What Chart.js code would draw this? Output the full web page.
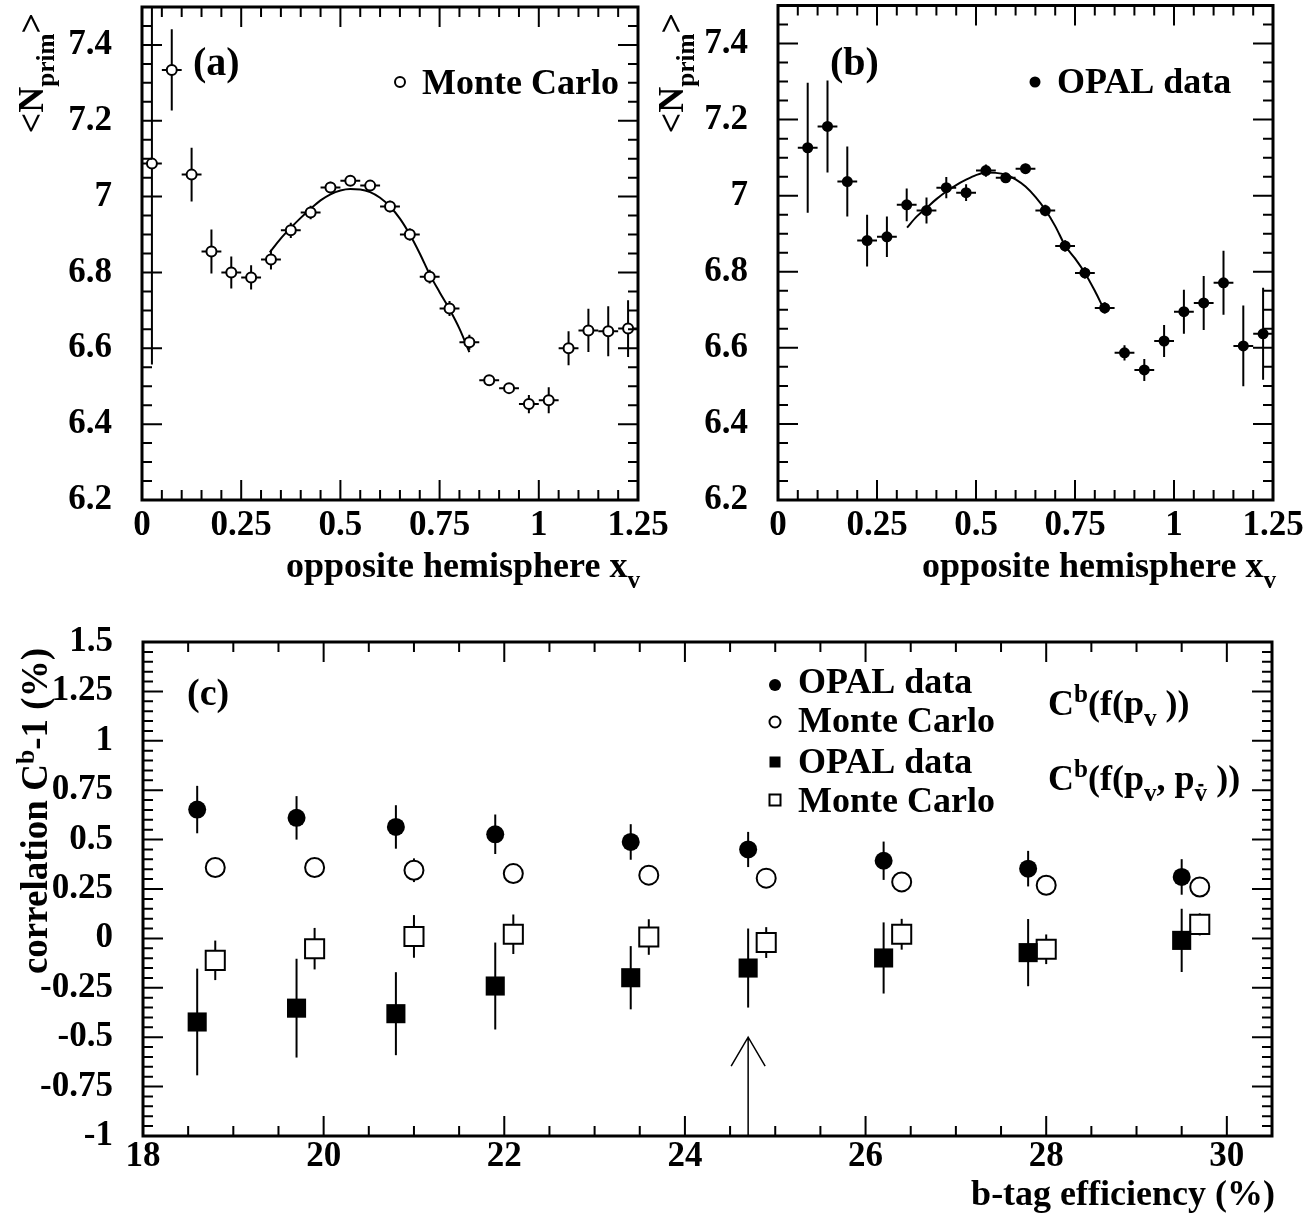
<!DOCTYPE html>
<html>
<head>
<meta charset="utf-8">
<script src="https://cdn.jsdelivr.net/npm/chart.js@4.4.0/dist/chart.umd.min.js"></script>
<style>
    html, body { margin: 0; padding: 0; background: #fff; }
    #page { position: relative; width: 1311px; height: 1222px; overflow: hidden; }
    canvas { position: absolute; }
</style>
</head>
<body>
<div id="page">
    <canvas id="chartA" width="700" height="600" style="left:0;top:0"></canvas>
    <canvas id="chartB" width="656" height="600" style="left:655px;top:0"></canvas>
    <canvas id="chartC" width="1311" height="612" style="left:0;top:610px"></canvas>
</div>
<script>
// ---- panels (a) and (b): <N_prim> vs opposite hemisphere x_v ----
const xBinsA = [0.025, 0.075, 0.125, 0.175, 0.225, 0.275, 0.325, 0.375, 0.425, 0.475, 0.525, 0.575,
    0.625, 0.675, 0.725, 0.775, 0.825, 0.875, 0.925, 0.975, 1.025, 1.075, 1.125, 1.175, 1.225];
const mcNprim = [7.087, 7.334, 7.058, 6.855, 6.800, 6.787, 6.834, 6.911, 6.958, 7.024, 7.042, 7.029,
    6.974, 6.900, 6.789, 6.705, 6.616, 6.516, 6.495, 6.453, 6.463, 6.600, 6.647, 6.645, 6.652];
const mcNprimErr = [0.53, 0.107, 0.071, 0.058, 0.042, 0.032, 0.026, 0.02, 0.018, 0.015, 0.013, 0.013,
    0.015, 0.016, 0.018, 0.02, 0.02, 0.012, 0.012, 0.024, 0.034, 0.045, 0.057, 0.066, 0.075];

const xBinsB = [0.075, 0.125, 0.175, 0.225, 0.275, 0.325, 0.375, 0.425, 0.475, 0.525, 0.575, 0.625,
    0.675, 0.725, 0.775, 0.825, 0.875, 0.925, 0.975, 1.025, 1.075, 1.125, 1.175, 1.225];
const dataNprim = [7.126, 7.182, 7.037, 6.882, 6.892, 6.976, 6.961, 7.021, 7.008, 7.066, 7.047, 7.071,
    6.961, 6.868, 6.797, 6.705, 6.587, 6.542, 6.618, 6.695, 6.718, 6.771, 6.605, 6.637];
const dataNprimErr = [0.171, 0.121, 0.092, 0.068, 0.053, 0.043, 0.034, 0.028, 0.022, 0.016, 0.013, 0.013,
    0.015, 0.015, 0.015, 0.015, 0.02, 0.029, 0.042, 0.058, 0.071, 0.084, 0.106, 0.121];
const binHalfWidth = 0.025;

// fitted curves
const fitXA = [0.322, 0.35, 0.375, 0.40, 0.425, 0.45, 0.475, 0.50, 0.525, 0.55, 0.575, 0.60, 0.625,
    0.65, 0.675, 0.70, 0.725, 0.75, 0.775, 0.80, 0.825];
const fitYA = [6.853, 6.89, 6.918, 6.944, 6.968, 6.99, 7.006, 7.016, 7.02, 7.019, 7.012, 6.997, 6.974,
    6.942, 6.900, 6.85, 6.795, 6.748, 6.703, 6.652, 6.59];
const fitXB = [0.326, 0.35, 0.375, 0.40, 0.425, 0.45, 0.475, 0.50, 0.525, 0.55, 0.575, 0.60, 0.625,
    0.65, 0.675, 0.70, 0.725, 0.75, 0.775, 0.80, 0.82];
const fitYB = [6.916, 6.945, 6.968, 6.991, 7.011, 7.028, 7.042, 7.054, 7.061, 7.06, 7.055, 7.043, 7.024,
    6.997, 6.963, 6.92, 6.869, 6.835, 6.797, 6.75, 6.708];

const xTicksAB = [0, 0.25, 0.5, 0.75, 1, 1.25];
const yTicksAB = [6.2, 6.4, 6.6, 6.8, 7, 7.2, 7.4];

// ---- panel (c): correlation vs b-tag efficiency ----
const effData = [18.6, 19.7, 20.8, 21.9, 23.4, 24.7, 26.2, 27.8, 29.5];
const effMc = [18.8, 19.9, 21.0, 22.1, 23.6, 24.9, 26.4, 28.0, 29.7];
const corrDataPv = [0.652, 0.61, 0.564, 0.527, 0.488, 0.45, 0.393, 0.353, 0.311];
const corrDataPvErr = [0.12, 0.11, 0.11, 0.10, 0.09, 0.089, 0.097, 0.09, 0.09];
const corrMcPv = [0.359, 0.359, 0.345, 0.328, 0.32, 0.305, 0.286, 0.269, 0.26];
const corrMcPvErr = [0.04, 0.04, 0.06, 0.04, 0.04, 0.04, 0.04, 0.04, 0.04];
const corrDataPvPvbar = [-0.423, -0.353, -0.381, -0.241, -0.199, -0.15, -0.099, -0.072, -0.01];
const corrDataPvPvbarErr = [0.27, 0.25, 0.21, 0.22, 0.16, 0.2, 0.18, 0.17, 0.16];
const corrMcPvPvbar = [-0.111, -0.052, 0.01, 0.021, 0.007, -0.021, 0.021, -0.055, 0.071];
const corrMcPvPvbarErr = [0.1, 0.105, 0.108, 0.1, 0.09, 0.078, 0.078, 0.075, 0.056];
const arrowEff = 24.7;
const arrowFrom = -1;
const arrowTo = -0.5;

const xTicksC = [18, 20, 22, 24, 26, 28, 30];
const yTicksC = [-1, -0.75, -0.5, -0.25, 0, 0.25, 0.5, 0.75, 1, 1.25, 1.5];

const FONT = '"Liberation Serif", "Times New Roman", serif';

function points(xs, ys) {
    return xs.map((x, i) => ({ x, y: ys[i] }));
}

/**
 * Draws text made of normal / sub / sup parts, left or right aligned.
 */
function richText(ctx, parts, x, y, size, align) {
    const small = size * 0.7;
    const fontFor = m => `bold ${m ? small : size}px ${FONT}`;
    const widths = parts.map(([t, m]) => { ctx.font = fontFor(m); return ctx.measureText(t).width; });
    const total = widths.reduce((a, b) => a + b, 0);
    let cx = align === 'right' ? x - total : x;
    ctx.fillStyle = '#000';
    ctx.textAlign = 'left';
    ctx.textBaseline = 'alphabetic';
    parts.forEach(([t, m], i) => {
        ctx.font = fontFor(m);
        let dy = 0;
        if (m === 'sub' || m === 'subbar') dy = size * 0.3;
        if (m === 'sup') dy = -size * 0.36;
        ctx.fillText(t, cx, y + dy);
        if (m === 'subbar') {
            ctx.save();
            ctx.strokeStyle = '#000';
            ctx.lineWidth = 2.5;
            ctx.beginPath();
            ctx.moveTo(cx + widths[i] * 0.3, y + dy - small * 0.62);
            ctx.lineTo(cx + widths[i] * 0.7, y + dy - small * 0.62);
            ctx.stroke();
            ctx.restore();
        }
        cx += widths[i];
    });
}

function verticalText(ctx, parts, x, yTop, size) {
    ctx.save();
    ctx.translate(x, yTop);
    ctx.rotate(-Math.PI / 2);
    richText(ctx, parts, 0, 0, size, 'right');
    ctx.restore();
}

function marker(ctx, style, x, y, r) {
    ctx.save();
    ctx.strokeStyle = '#000';
    ctx.fillStyle = '#000';
    ctx.lineWidth = 2;
    ctx.beginPath();
    if (style === 'circle' || style === 'ocircle') ctx.arc(x, y, r, 0, Math.PI * 2);
    else ctx.rect(x - r, y - r, 2 * r, 2 * r);
    if (style === 'circle' || style === 'square') ctx.fill(); else ctx.stroke();
    ctx.restore();
}

// error bars, drawn under the markers
const errorBars = {
    id: 'errorBars',
    beforeDatasetsDraw(chart) {
        const { ctx, chartArea: a, scales: { x, y } } = chart;
        ctx.save();
        ctx.beginPath();
        ctx.rect(a.left, a.top, a.width, a.height);
        ctx.clip();
        ctx.strokeStyle = '#000';
        chart.data.datasets.forEach(ds => {
            if (!ds.errY) return;
            ctx.lineWidth = ds.errWidth || 2;
            ds.data.forEach((p, i) => {
                const px = x.getPixelForValue(p.x);
                const py = y.getPixelForValue(p.y);
                ctx.beginPath();
                ctx.moveTo(px, y.getPixelForValue(p.y - ds.errY[i]));
                ctx.lineTo(px, y.getPixelForValue(p.y + ds.errY[i]));
                if (ds.errX) {
                    ctx.moveTo(x.getPixelForValue(p.x - ds.errX), py);
                    ctx.lineTo(x.getPixelForValue(p.x + ds.errX), py);
                }
                ctx.stroke();
            });
        });
        ctx.restore();
    }
};

// ROOT-like frame with inside ticks on all four sides
const frameTicks = {
    id: 'frameTicks',
    afterDraw(chart, args, opts) {
        const { ctx, chartArea: a, scales: { x, y } } = chart;
        ctx.save();
        ctx.strokeStyle = '#000';
        ctx.lineWidth = 2;
        const nx = Math.round((x.max - x.min) / opts.xMinor);
        for (let k = 1; k < nx; k++) {
            const px = x.getPixelForValue(x.min + k * opts.xMinor);
            const len = k % opts.xRatio === 0 ? 20 : 10;
            ctx.beginPath();
            ctx.moveTo(px, a.bottom); ctx.lineTo(px, a.bottom - len);
            ctx.moveTo(px, a.top); ctx.lineTo(px, a.top + len);
            ctx.stroke();
        }
        const ny = Math.round((y.max - y.min) / opts.yMinor);
        for (let k = 1; k < ny; k++) {
            const py = y.getPixelForValue(y.min + k * opts.yMinor);
            const len = k % opts.yRatio === 0 ? 20 : 10;
            ctx.beginPath();
            ctx.moveTo(a.left, py); ctx.lineTo(a.left + len, py);
            ctx.moveTo(a.right, py); ctx.lineTo(a.right - len, py);
            ctx.stroke();
        }
        ctx.lineWidth = 3;
        ctx.strokeRect(a.left, a.top, a.width, a.height);
        ctx.restore();
    }
};

function axis(pos, min, max, ticks, size, pad) {
    return {
        type: 'linear',
        position: pos,
        min,
        max,
        grid: { display: false, drawTicks: false },
        border: { display: false },
        afterBuildTicks: s => { s.ticks = ticks.map(v => ({ value: v })); },
        afterFit: s => {
            if (pos === 'left') s.width = size; else s.height = size;
            s.paddingLeft = s.paddingRight = s.paddingTop = s.paddingBottom = 0;
        },
        ticks: {
            color: '#000',
            font: { family: FONT, weight: 'bold', size: 35 },
            padding: pad,
            maxRotation: 0,
            autoSkip: false,
            callback: v => String(v)
        }
    };
}

function baseOptions(padding, yWidth, xHeight, xr, yr, tickOpts) {
    return {
        responsive: false,
        animation: false,
        devicePixelRatio: 1,
        layout: { padding },
        plugins: { legend: { display: false }, tooltip: { enabled: false }, frameTicks: tickOpts },
        scales: {
            x: axis('bottom', xr[0], xr[1], xr[2], xHeight, xr[3]),
            y: axis('left', yr[0], yr[1], yr[2], yWidth, 30)
        },
        events: []
    };
}

function createPanelA() {
    const ctx = document.getElementById('chartA').getContext('2d');
    new Chart(ctx, {
        type: 'scatter',
        data: {
            datasets: [{
                data: points(xBinsA, mcNprim),
                errY: mcNprimErr,
                errX: binHalfWidth,
                pointStyle: 'circle',
                pointRadius: 5,
                pointBorderWidth: 2,
                pointBackgroundColor: '#fff',
                pointBorderColor: '#000',
                order: 0
            }, {
                data: points(fitXA, fitYA),
                showLine: true,
                pointRadius: 0,
                borderColor: '#000',
                borderWidth: 2,
                cubicInterpolationMode: 'monotone',
                order: 1
            }]
        },
        options: baseOptions({ left: 0, top: 5, right: 62, bottom: 0 }, 142, 100,
            [0, 1.25, xTicksAB, 5], [6.2, 7.5, yTicksAB],
            { xMinor: 0.05, xRatio: 5, yMinor: 0.05, yRatio: 4 }),
        plugins: [errorBars, frameTicks, {
            id: 'textA',
            afterDraw(chart) {
                const c = chart.ctx;
                verticalText(c, [['<N', ''], ['prim', 'sub'], ['>', '']], 43, 13, 36);
                richText(c, [['opposite hemisphere x', ''], ['v', 'sub']], 640, 577, 36, 'right');
                richText(c, [['(a)', '']], 193, 75, 40, 'left');
                marker(c, 'ocircle', 400, 82, 5);
                richText(c, [['Monte Carlo', '']], 422, 94, 36, 'left');
            }
        }]
    });
}

function createPanelB() {
    const ctx = document.getElementById('chartB').getContext('2d');
    new Chart(ctx, {
        type: 'scatter',
        data: {
            datasets: [{
                data: points(xBinsB, dataNprim),
                errY: dataNprimErr,
                errX: binHalfWidth,
                pointStyle: 'circle',
                pointRadius: 5.5,
                pointBorderWidth: 0,
                pointBackgroundColor: '#000',
                order: 0
            }, {
                data: points(fitXB, fitYB),
                showLine: true,
                pointRadius: 0,
                borderColor: '#000',
                borderWidth: 2,
                cubicInterpolationMode: 'monotone',
                order: 1
            }]
        },
        options: baseOptions({ left: 0, top: 5, right: 38, bottom: 0 }, 123, 100,
            [0, 1.25, xTicksAB, 5], [6.2, 7.5, yTicksAB],
            { xMinor: 0.05, xRatio: 5, yMinor: 0.05, yRatio: 4 }),
        plugins: [errorBars, frameTicks, {
            id: 'textB',
            afterDraw(chart) {
                const c = chart.ctx;
                verticalText(c, [['<N', ''], ['prim', 'sub'], ['>', '']], 28, 13, 36);
                richText(c, [['opposite hemisphere x', ''], ['v', 'sub']], 621, 577, 36, 'right');
                richText(c, [['(b)', '']], 175, 75, 40, 'left');
                marker(c, 'circle', 380, 82, 5.5);
                richText(c, [['OPAL data', '']], 402, 93, 36, 'left');
            }
        }]
    });
}

function createPanelC() {
    const ctx = document.getElementById('chartC').getContext('2d');
    const common = { errWidth: 2, pointBorderColor: '#000', pointBorderWidth: 2 };
    new Chart(ctx, {
        type: 'scatter',
        data: {
            datasets: [
                { ...common, data: points(effData, corrDataPv), errY: corrDataPvErr,
                  pointStyle: 'circle', pointRadius: 9, pointBorderWidth: 0, pointBackgroundColor: '#000' },
                { ...common, data: points(effMc, corrMcPv), errY: corrMcPvErr,
                  pointStyle: 'circle', pointRadius: 9.5, pointBackgroundColor: '#fff' },
                { ...common, data: points(effData, corrDataPvPvbar), errY: corrDataPvPvbarErr,
                  pointStyle: 'rect', pointRadius: 13.5, pointBorderWidth: 0, pointBackgroundColor: '#000' },
                { ...common, data: points(effMc, corrMcPvPvbar), errY: corrMcPvPvbarErr,
                  pointStyle: 'rect', pointRadius: 13.5, pointBackgroundColor: '#fff' }
            ]
        },
        options: baseOptions({ left: 0, top: 32, right: 39, bottom: 0 }, 143, 86,
            [18, 30.5, xTicksC, 0], [-1, 1.5, yTicksC],
            { xMinor: 0.5, xRatio: 4, yMinor: 0.05, yRatio: 5 }),
        plugins: [errorBars, frameTicks, {
            id: 'textC',
            afterDraw(chart) {
                const c = chart.ctx;
                const { x, y } = chart.scales;
                // arrow marking the working point
                const ax = x.getPixelForValue(arrowEff);
                const tip = y.getPixelForValue(arrowTo);
                c.save();
                c.strokeStyle = '#000';
                c.lineWidth = 1.5;
                c.beginPath();
                c.moveTo(ax, y.getPixelForValue(arrowFrom));
                c.lineTo(ax, tip);
                c.moveTo(ax - 17, tip + 29);
                c.lineTo(ax, tip);
                c.lineTo(ax + 17, tip + 29);
                c.stroke();
                c.restore();

                verticalText(c, [['correlation C', ''], ['b', 'sup'], ['-1 (%)', '']], 47, 38, 37);
                richText(c, [['b-tag efficiency (%)', '']], 1275, 595, 36, 'right');
                richText(c, [['(c)', '']], 187, 95, 38, 'left');

                marker(c, 'circle', 775, 75, 6);
                marker(c, 'ocircle', 775, 112, 5.5);
                marker(c, 'square', 775, 152, 5.5);
                marker(c, 'osquare', 775, 190, 5.5);
                richText(c, [['OPAL data', '']], 798, 83, 36, 'left');
                richText(c, [['Monte Carlo', '']], 798, 122, 36, 'left');
                richText(c, [['OPAL data', '']], 798, 163, 36, 'left');
                richText(c, [['Monte Carlo', '']], 798, 202, 36, 'left');

                richText(c, [['C', ''], ['b', 'sup'], ['(f(p', ''], ['v', 'sub'], [' ))', '']], 1048, 105, 36, 'left');
                richText(c, [['C', ''], ['b', 'sup'], ['(f(p', ''], ['v', 'sub'], [', p', ''], ['v', 'subbar'], [' ))', '']],
                    1048, 180, 36, 'left');
            }
        }]
    });
}

createPanelA();
createPanelB();
createPanelC();
</script>
</body>
</html>
